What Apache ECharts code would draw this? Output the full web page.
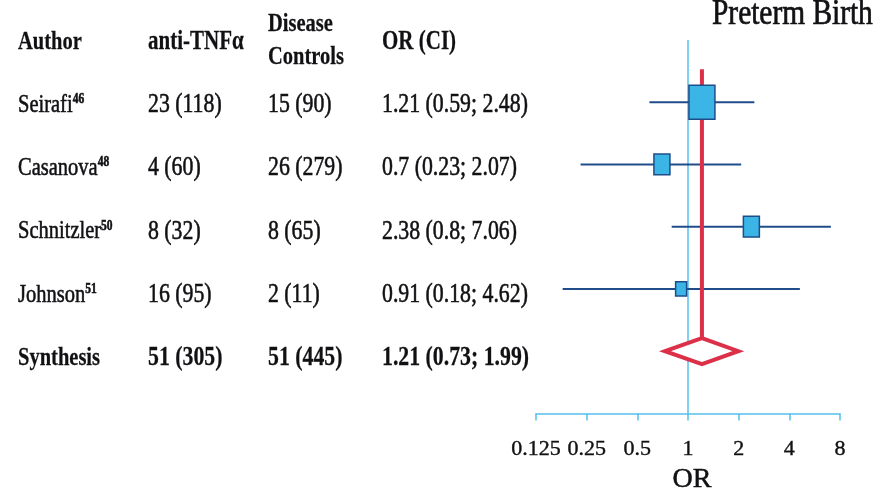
<!DOCTYPE html>
<html><head><meta charset="utf-8">
<script src="https://cdn.jsdelivr.net/npm/echarts@6/dist/echarts.min.js"></script>
<style>html,body{margin:0;padding:0;background:#fff}#c{width:879px;height:499px}</style>
</head><body><div id="c"></div>
<script>
// ---- data ----
const authors = ['Seirafi', 'Casanova', 'Schnitzler', 'Johnson', 'Synthesis'];
const refs = ['46', '48', '50', '51', ''];
const antiEvents = [23, 4, 8, 16, 51];
const antiTotal = [118, 60, 32, 95, 305];
const ctrlEvents = [15, 26, 8, 2, 51];
const ctrlTotal = [90, 279, 65, 11, 445];
const orVal = [1.21, 0.7, 2.38, 0.91, 1.21];
const ciLow = [0.59, 0.23, 0.8, 0.18, 0.73];
const ciHigh = [2.48, 2.07, 7.06, 4.62, 1.99];
const xTicks = [0.125, 0.25, 0.5, 1, 2, 4, 8];
const headers = ['Author', 'anti-TNFα', 'Disease\nControls', 'OR (CI)'];
const title = 'Preterm Birth';
const axisName = 'OR';

// ---- style / layout ----
const FONT = '"Liberation Serif", "DejaVu Serif", serif';
const TXT = '#111114';
const NAVY = '#1f4d8a';
const FILL = '#3ab5e6';
const RED = '#dc3049';
const LIGHT = '#55c1ec';
const SY = 1.28;
const gridTop = 40, gridBottom = 79, yMax = 6;
const plotH = 499 - gridTop - gridBottom;
const boxW = [26, 16, 16, 11];
const boxAspect = 1.3;
const diamondHalfH = 13;
const redTop = 5.53;
const cols = [18, 148, 268, 382];
const colSize = [20.5, 21.8, 21.8, 21.8];
const textShift = 1.5;
const rowVal = i => authors.length - i;
const rowPx = v => gridTop + (yMax - v) / yMax * plotH;

const chart = echarts.init(document.getElementById('c'));

const graphic = [];
function addText(x, y, text, size, bold, rich, lh) {
  const st = {
    text: text, x: 0, y: 0, fontSize: size, fontFamily: FONT,
    fontWeight: bold ? 'bold' : 'normal', fill: TXT,
    stroke: TXT, lineWidth: bold ? 0.2 : 0.45,
    verticalAlign: 'middle', align: 'left'
  };
  if (lh) st.lineHeight = lh;
  if (rich) st.rich = rich;
  graphic.push({ type: 'text', z: 10, x: x, y: y, scaleY: SY, style: st });
}
// headers
addText(cols[0], 42, headers[0], 20.5, true);
addText(cols[1], 42, headers[1], 21, true);
addText(cols[2], 40.5, headers[2], 20.5, true, null, 33 / SY);
addText(cols[3], 42, headers[3], 21, true);
// rows
authors.forEach((a, i) => {
  const y = rowPx(rowVal(i)) + textShift;
  const bold = a === 'Synthesis';
  const w = bold ? 'bold' : 'normal';
  const rich = {
    a: { fontSize: colSize[0], fontFamily: FONT, fontWeight: w, fill: TXT, stroke: TXT, lineWidth: bold ? 0.2 : 0.45, lineHeight: 21 },
    s: { fontSize: 11.5, fontFamily: FONT, fontWeight: 'bold', fill: TXT, verticalAlign: 'top', lineHeight: 12 }
  };
  addText(cols[0], y, refs[i] ? `{a|${a}}{s|${refs[i]}}` : `{a|${a}}`, colSize[0], bold, rich);
  addText(cols[1], y, `${antiEvents[i]} (${antiTotal[i]})`, colSize[1], bold);
  addText(cols[2], y, `${ctrlEvents[i]} (${ctrlTotal[i]})`, colSize[2], bold);
  addText(cols[3], y, `${orVal[i]} (${ciLow[i]}; ${ciHigh[i]})`, colSize[3], bold);
});
graphic.push({ type: 'text', z: 10, x: 712, y: 15, scaleY: 1.2, style: { text: title, x: 0, y: 0, fontSize: 29.4, fontFamily: FONT, fill: TXT, stroke: TXT, lineWidth: 0.6, verticalAlign: 'middle', align: 'left' } });

const nStudies = authors.length - 1;
const studyData = [];
for (let i = 0; i < nStudies; i++) studyData.push([orVal[i], ciLow[i], ciHigh[i], rowVal(i)]);
const pooled = nStudies;

chart.setOption({
  animation: false,
  grid: { left: 536, right: 39, top: gridTop, bottom: gridBottom, containLabel: false },
  xAxis: {
    type: 'log', logBase: 2, min: xTicks[0], max: xTicks[xTicks.length - 1], interval: 1,
    axisLine: { lineStyle: { color: LIGHT, width: 1.5 } },
    axisTick: { show: true, length: 7, lineStyle: { color: LIGHT, width: 1.5 } },
    splitLine: { show: false },
    axisLabel: { fontSize: 22, fontFamily: FONT, color: TXT, textBorderColor: TXT, textBorderWidth: 0.4, margin: 25, formatter: v => String(+v.toPrecision(6)) },
    name: axisName, nameLocation: 'middle', nameGap: 48,
    nameTextStyle: { fontSize: 28, fontFamily: FONT, color: TXT, textBorderColor: TXT, textBorderWidth: 0.5, padding: [0, 0, 0, 8] }
  },
  yAxis: { type: 'value', min: 0, max: yMax, show: false },
  graphic: graphic,
  series: [
    { type: 'line', z: 1, symbol: 'none', data: [[1, 0], [1, yMax]], lineStyle: { color: LIGHT, width: 1.5 }, silent: true },
    {
      type: 'custom', z: 2, data: studyData,
      renderItem(params, api) {
        const y = api.value(3);
        const l = api.coord([api.value(1), y]);
        const h = api.coord([api.value(2), y]);
        return { type: 'line', shape: { x1: l[0], y1: l[1], x2: h[0], y2: h[1] }, style: { stroke: NAVY, lineWidth: 2 } };
      }
    },
    {
      type: 'custom', z: 3, data: [[orVal[pooled], ciLow[pooled], ciHigh[pooled], rowVal(pooled)]],
      renderItem(params, api) {
        const y = api.value(3);
        const c = api.coord([api.value(0), y]);
        const l = api.coord([api.value(1), y]);
        const h = api.coord([api.value(2), y]);
        const t = api.coord([api.value(0), redTop]);
        return {
          type: 'group', children: [
            { type: 'line', shape: { x1: c[0], y1: t[1], x2: c[0], y2: c[1] - diamondHalfH }, style: { stroke: RED, lineWidth: 4 } },
            { type: 'polygon', shape: { points: [[l[0], c[1]], [c[0], c[1] - diamondHalfH], [h[0], c[1]], [c[0], c[1] + diamondHalfH]] }, style: { fill: '#fff', stroke: RED, lineWidth: 4, lineJoin: 'miter' } }
          ]
        };
      }
    },
    {
      type: 'custom', z: 4, data: studyData,
      renderItem(params, api) {
        const c = api.coord([api.value(0), api.value(3)]);
        const w = boxW[params.dataIndex], hh = w * boxAspect;
        return { type: 'rect', shape: { x: c[0] - w / 2, y: c[1] - hh / 2, width: w, height: hh }, style: { fill: FILL, stroke: NAVY, lineWidth: 1.5 } };
      }
    }
  ]
});
</script></body></html>
